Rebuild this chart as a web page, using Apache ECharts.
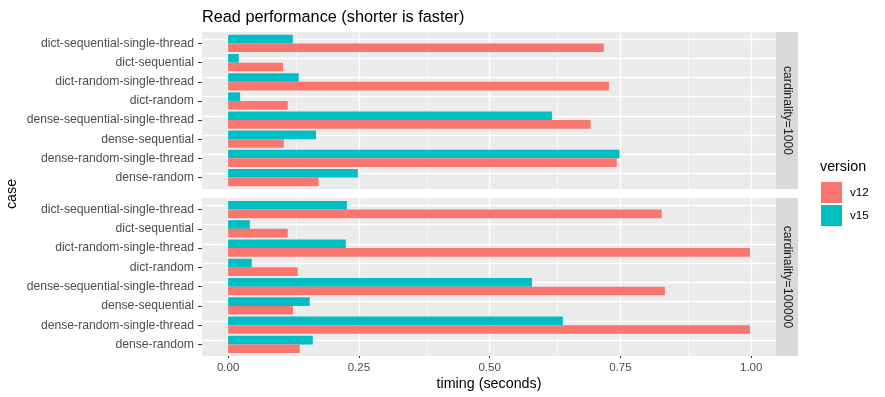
<!DOCTYPE html>
<html>
<head>
<meta charset="utf-8">
<script src="https://cdn.jsdelivr.net/npm/echarts@6/dist/echarts.min.js"></script>
<style>
  html, body { margin: 0; padding: 0; background: #fff; }
  #myChart { width: 885px; height: 397px; }
</style>
</head>
<body>
<div id="myChart"></div>
<script type="text/javascript">
// categories, bottom to top (alphabetical, as ggplot orders them)
var cases = ['dense-random', 'dense-random-single-thread', 'dense-sequential', 'dense-sequential-single-thread',
  'dict-random', 'dict-random-single-thread', 'dict-sequential', 'dict-sequential-single-thread'];
var versions = ['v12', 'v15'];
var facets = ['cardinality=1000', 'cardinality=100000'];

// timing (seconds), cardinality=1000
var v12_1000 = [0.173, 0.743, 0.1065, 0.693, 0.114, 0.728, 0.105, 0.718];
var v15_1000 = [0.248, 0.748, 0.168, 0.619, 0.023, 0.135, 0.0204, 0.1237];
// timing (seconds), cardinality=100000
var v12_100000 = [0.137, 0.9975, 0.124, 0.835, 0.133, 0.9975, 0.114, 0.829];
var v15_100000 = [0.162, 0.640, 0.156, 0.581, 0.0453, 0.225, 0.0415, 0.227];

var xTicks = [0, 0.25, 0.5, 0.75, 1.0];

var colors = { v12: '#F8766D', v15: '#00BFC4' };
var font = 'Liberation Sans';

// ggplot style expansion of the value scale (5% each side)
var dataMax = Math.max.apply(null, v12_1000.concat(v15_1000, v12_100000, v15_100000));
var xMin = -0.05 * dataMax;
var xMax = 1.05 * dataMax;

// vertical gridlines: major at ticks, minor half way between
var xLines = [];
xTicks.forEach(function (t, i) {
  xLines.push({ xAxis: t, lineStyle: { width: 1.4 } });
  if (i < xTicks.length - 1) {
    xLines.push({ xAxis: (t + xTicks[i + 1]) / 2, lineStyle: { width: 0.6 } });
  }
});
// horizontal gridlines at each case
var yLines = cases.map(function (c) {
  return { yAxis: c, lineStyle: { width: 1.4 } };
});

// panel boxes; ggplot pads a discrete scale by 0.6 of a step on each side
var panels = [
  { top: 32, height: 157 },
  { top: 198, height: 158 }
];
var seriesData = [
  { v12: v12_1000, v15: v15_1000 },
  { v12: v12_100000, v15: v15_100000 }
];

var grids = [], xAxes = [], yAxes = [], series = [], graphics = [];
var n = cases.length;

panels.forEach(function (p, k) {
  var bottom = k === panels.length - 1;
  var step = p.height / (n - 1 + 1.2);
  var pad = step * 0.1;
  var gBack = grids.length;
  // background panel with the vertical gridlines
  grids.push({
    left: 202, top: p.top, width: 574, height: p.height,
    show: true, backgroundColor: '#EBEBEB', borderWidth: 0
  });
  xAxes.push({ gridIndex: gBack, type: 'value', min: xMin, max: xMax, show: false });
  yAxes.push({ gridIndex: gBack, type: 'value', min: 0, max: 1, show: false });
  series.push({
    name: 'grid' + k, type: 'line', xAxisIndex: gBack, yAxisIndex: gBack, data: [],
    silent: true,
    markLine: {
      silent: true, symbol: 'none', z: 1, animation: false,
      label: { show: false },
      lineStyle: { color: '#FFFFFF', type: 'solid' },
      data: xLines
    }
  });

  // bars
  var gBar = grids.length;
  grids.push({ left: 202, top: p.top + pad, width: 574, height: p.height - 2 * pad });
  xAxes.push({
    gridIndex: gBar, type: 'value', min: xMin, max: xMax,
    axisLine: { show: false, onZero: false },
    splitLine: { show: false },
    axisTick: { show: bottom, length: 4, lineStyle: { color: '#333333' }, customValues: xTicks },
    axisLabel: {
      show: bottom, customValues: xTicks, margin: 6 + pad,
      color: '#4D4D4D', fontSize: 11.5, fontFamily: font,
      formatter: function (v) { return v.toFixed(2); }
    },
    name: bottom ? 'timing (seconds)' : '',
    nameLocation: 'middle', nameGap: 21 + pad,
    nameTextStyle: { color: '#000', fontSize: 14.3, fontFamily: font }
  });
  yAxes.push({
    gridIndex: gBar, type: 'category', data: cases,
    axisLine: { show: false, onZero: false },
    splitLine: { show: false },
    axisTick: { show: true, alignWithLabel: true, length: 4, lineStyle: { color: '#333333' } },
    axisLabel: { color: '#4D4D4D', fontSize: 12.2, fontFamily: font, margin: 8 }
  });
  // v15 first so it sits above v12 within each case
  ['v15', 'v12'].forEach(function (v, j) {
    var s = {
      name: v, type: 'bar', xAxisIndex: gBar, yAxisIndex: gBar,
      data: seriesData[k][v],
      barWidth: step * 0.45, barGap: '0%',
      itemStyle: { color: colors[v] }
    };
    if (j === 0) {
      s.markLine = {
        silent: true, symbol: 'none', z: 1, animation: false,
        label: { show: false },
        lineStyle: { color: '#FFFFFF', type: 'solid' },
        data: yLines
      };
    }
    series.push(s);
  });

  // facet strip
  graphics.push({
    type: 'rect', left: 776, top: p.top, z: 1,
    shape: { width: 22, height: p.height },
    style: { fill: '#D9D9D9' }
  });
  graphics.push({
    type: 'text', x: 787, y: p.top + p.height / 2, rotation: -Math.PI / 2, z: 2,
    style: {
      text: facets[k], fill: '#1A1A1A', fontSize: 12.2, fontFamily: font,
      align: 'center', verticalAlign: 'middle'
    }
  });
});

// axis title "case"
graphics.push({
  type: 'text', x: 12, y: 194, rotation: Math.PI / 2,
  style: { text: 'case', fill: '#000', fontSize: 14.3, fontFamily: font, align: 'center', verticalAlign: 'middle' }
});
// legend title
graphics.push({
  type: 'text', x: 820, y: 167,
  style: { text: 'version', fill: '#000', fontSize: 14.3, fontFamily: font, align: 'left', verticalAlign: 'middle' }
});

var option = {
  animation: false,
  backgroundColor: '#FFFFFF',
  title: {
    text: 'Read performance (shorter is faster)',
    left: 197, top: 5,
    textStyle: { color: '#000', fontSize: 16.3, fontWeight: 'normal', fontFamily: font }
  },
  legend: {
    data: versions, orient: 'vertical', left: 821, top: 182,
    itemWidth: 21, itemHeight: 21, itemGap: 2, icon: 'rect', padding: 0,
    textStyle: { color: '#000', fontSize: 11.7, fontFamily: font, padding: [0, 0, 0, 3] }
  },
  grid: grids,
  xAxis: xAxes,
  yAxis: yAxes,
  series: series,
  graphic: graphics
};

echarts.init(document.getElementById('myChart')).setOption(option);
</script>
</body>
</html>
